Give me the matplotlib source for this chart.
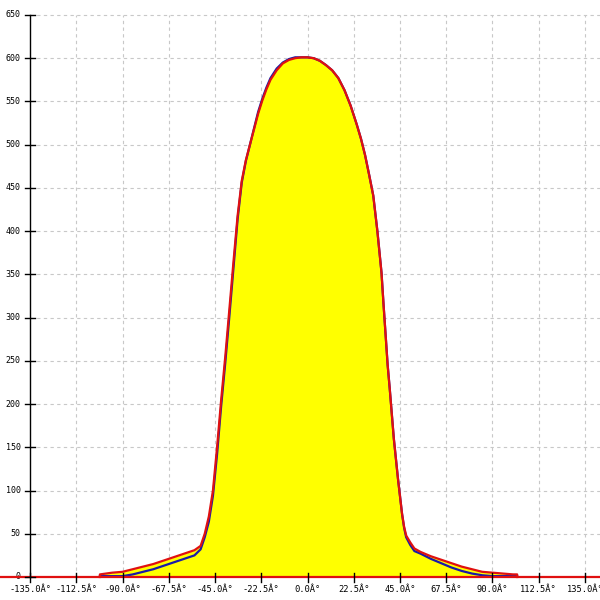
import numpy as np
import matplotlib
matplotlib.use("Agg")
import matplotlib.pyplot as plt

# angles (deg) and measured intensity
angles = [-101, -95, -90, -85, -80, -75, -70, -65, -60, -55, -52, -50, -48, -46, -44,
          -42, -40, -38, -36, -34, -32, -30, -28, -26, -24, -22, -20, -18, -15, -12, -9,
          -6, -3, 0, 3, 6, 9, 12, 15, 18, 21, 24, 26, 28, 30, 32, 34, 36, 37, 38, 39, 40,
          42, 44, 46, 47, 48, 50, 52, 55, 60, 65, 70, 75, 80, 85, 90, 95, 100, 102]
red_vals = [3, 5, 6, 9, 12, 15, 19, 23, 27, 31, 36, 50, 70, 100, 150,
            205, 255, 310, 365, 418, 458, 482, 500, 518, 536, 551, 564, 575, 586, 594, 598,
            600, 601, 601, 600, 597, 592, 586, 577, 563, 545, 523, 507, 488, 465, 441, 400, 352, 315, 280, 245, 218,
            160, 114, 73, 58, 48, 40, 33, 29, 24, 20, 16, 12, 9, 6, 5, 4, 3, 3]
blue_vals = [1, 1, 1, 3, 6, 9, 13, 17, 21, 25, 32, 46, 64, 94, 142,
             198, 248, 302, 358, 414, 456, 481, 500, 519, 538, 553, 566, 577, 588, 595, 599,
             601, 601, 601, 600, 597, 592, 586, 577, 563, 545, 523, 507, 488, 465, 441, 400, 352, 315, 280, 245, 218,
             160, 114, 73, 57, 46, 37, 30, 27, 21, 16, 11, 7, 4, 2, 1, 1, 1, 1]

x_ticks = [-135.0, -112.5, -90.0, -67.5, -45.0, -22.5, 0.0, 22.5, 45.0, 67.5, 90.0, 112.5, 135.0]
y_ticks = list(range(0, 651, 50))

x_lo, x_hi = -149.6, 142.3
y_lo, y_hi = -26.6, 667.3

fig = plt.figure(figsize=(6, 6), dpi=100)
ax = fig.add_axes([0, 0, 1, 1])
ax.set_xlim(x_lo, x_hi)
ax.set_ylim(y_lo, y_hi)
ax.axis("off")

grid_kw = dict(color="#c8c8c8", lw=0.8, ls=(0, (3, 3)), zorder=1)
for xt in x_ticks[1:]:
    ax.plot([xt, xt], [0, 650], **grid_kw)
for yt in y_ticks[1:]:
    ax.plot([-135, x_hi], [yt, yt], **grid_kw)

# fill under the outer curve
upper = np.maximum(red_vals, blue_vals)
ax.fill_between(angles, 0, upper, color="#ffff00", lw=0, zorder=2)
ax.plot(angles, blue_vals, color="#1a1aa8", lw=1.6, zorder=3, solid_joinstyle="round")
ax.plot([angles[0]] + angles + [angles[-1]], [0] + red_vals + [0], color="#e01010",
        lw=1.6, zorder=4, solid_joinstyle="round")

# axes lines and ticks
ax.plot([-135, -135], [0, 650], color="black", lw=1.0, zorder=5)
for yt in y_ticks:
    ax.plot([-137.5, -132.5], [yt, yt], color="black", lw=1.0, zorder=5)
    ax.text(-139.5, yt, str(yt), ha="right", va="center", fontsize=6,
            family="DejaVu Sans Mono")
for xt in x_ticks:
    ax.plot([xt, xt], [-5.5, 4.5], color="black", lw=1.0, zorder=5)
    ax.text(xt, -15, "%.1fÂ°" % xt, ha="center", va="center", fontsize=6.3,
            family="DejaVu Sans Mono")

ax.axhline(0, color="#e01010", lw=1.6, zorder=4)

fig.savefig("out.png", dpi=100)
